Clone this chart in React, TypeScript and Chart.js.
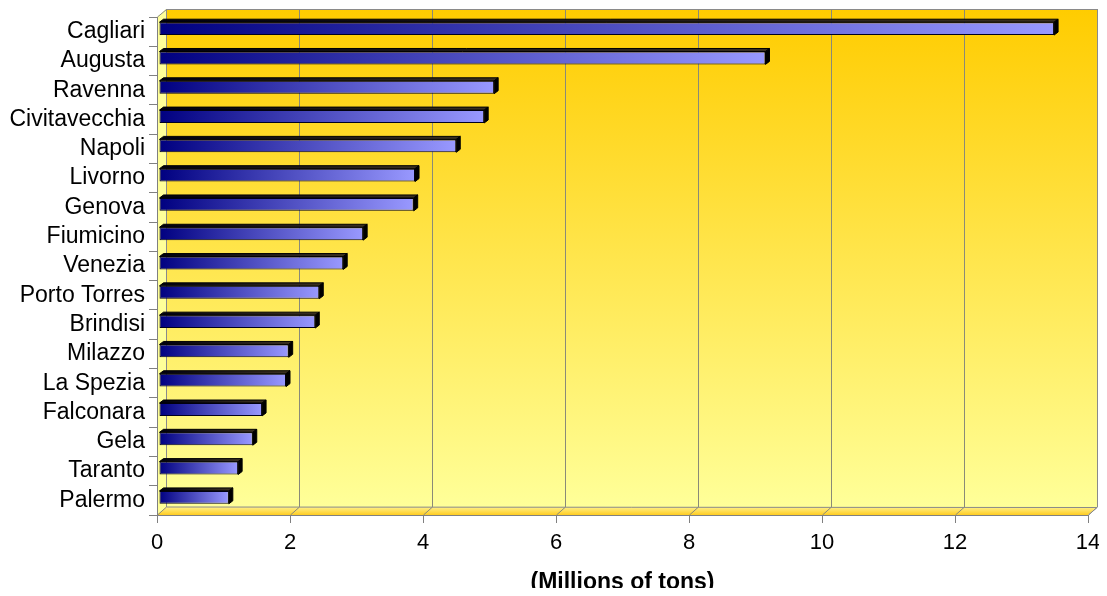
import React, { useEffect, useRef } from "react";
import { Chart, registerables } from "chart.js";

Chart.register(...registerables);

const ports = [
  "Cagliari", "Augusta", "Ravenna", "Civitavecchia", "Napoli", "Livorno", "Genova",
  "Fiumicino", "Venezia", "Porto Torres", "Brindisi", "Milazzo", "La Spezia",
  "Falconara", "Gela", "Taranto", "Palermo",
];
const tons = [
  13.46, 9.12, 5.04, 4.89, 4.47, 3.85, 3.83, 3.07, 2.77, 2.41, 2.35, 1.95, 1.91, 1.55, 1.41, 1.19, 1.05,
];
const xMin = 0;
const xMax = 14;
const xStep = 2;
const axisTitle = "(Millions of tons)";

const WALL_DX = 9;
const WALL_DY = -8;
const BAR_DX = 4;
const BAR_DY = -3;
const SHIFT_X = 2;
const SHIFT_Y = -3;
const FONT = "'Liberation Sans', Arial, sans-serif";

const threeD = {
  id: "threeD",
  beforeDraw(chart: any) {
    const { ctx, chartArea, scales } = chart;
    const { left, right, top, bottom } = chartArea;
    const x = scales.x;
    ctx.save();
    const g = ctx.createLinearGradient(0, top + WALL_DY, 0, bottom + WALL_DY);
    g.addColorStop(0, "#FFCC00");
    g.addColorStop(1, "#FFFF99");
    ctx.fillStyle = g;
    ctx.fillRect(left + WALL_DX, top + WALL_DY, right - left, bottom - top);
    ctx.fillStyle = "#FFFF99";
    ctx.beginPath();
    ctx.moveTo(left, top);
    ctx.lineTo(left + WALL_DX, top + WALL_DY);
    ctx.lineTo(left + WALL_DX, bottom + WALL_DY);
    ctx.lineTo(left, bottom);
    ctx.closePath();
    ctx.fill();
    const fg = ctx.createLinearGradient(0, bottom + WALL_DY, 0, bottom);
    fg.addColorStop(0, "#FFF08A");
    fg.addColorStop(1, "#FFCC22");
    ctx.fillStyle = fg;
    ctx.beginPath();
    ctx.moveTo(left, bottom);
    ctx.lineTo(left + WALL_DX, bottom + WALL_DY);
    ctx.lineTo(right + WALL_DX, bottom + WALL_DY);
    ctx.lineTo(right, bottom);
    ctx.closePath();
    ctx.fill();
    ctx.strokeStyle = "#8a8a78";
    ctx.lineWidth = 1;
    for (const t of x.ticks) {
      const px = Math.round(x.getPixelForValue(t.value)) + 0.5;
      ctx.beginPath();
      ctx.moveTo(px + WALL_DX, top + WALL_DY);
      ctx.lineTo(px + WALL_DX, bottom + WALL_DY);
      ctx.stroke();
      ctx.beginPath();
      ctx.moveTo(px, bottom);
      ctx.lineTo(px + WALL_DX, bottom + WALL_DY);
      ctx.stroke();
    }
    ctx.strokeStyle = "#8a8a8a";
    ctx.beginPath();
    ctx.moveTo(left + 0.5, top);
    ctx.lineTo(left + WALL_DX + 0.5, top + WALL_DY + 0.5);
    ctx.lineTo(right + WALL_DX + 0.5, top + WALL_DY + 0.5);
    ctx.lineTo(right + WALL_DX + 0.5, bottom + WALL_DY);
    ctx.lineTo(right + 0.5, bottom);
    ctx.stroke();
    ctx.beginPath();
    ctx.moveTo(left + WALL_DX + 0.5, top + WALL_DY);
    ctx.lineTo(left + WALL_DX + 0.5, bottom + WALL_DY);
    ctx.lineTo(right + WALL_DX, bottom + WALL_DY + 0.5);
    ctx.stroke();
    ctx.restore();
  },
  beforeDatasetsDraw(chart: any) {
    chart.ctx.save();
    chart.ctx.translate(SHIFT_X, SHIFT_Y);
  },
  afterDatasetsDraw(chart: any) {
    const { ctx } = chart;
    const meta = chart.getDatasetMeta(0);
    ctx.lineWidth = 1;
    for (const el of meta.data) {
      const { x, y, base, height } = el.getProps(["x", "y", "base", "height"], true);
      const t = y - height / 2;
      const b = y + height / 2;
      const tg = ctx.createLinearGradient(base, 0, x, 0);
      tg.addColorStop(0, "#000010");
      tg.addColorStop(1, "#3a3020");
      ctx.fillStyle = tg;
      ctx.strokeStyle = "#000";
      ctx.beginPath();
      ctx.moveTo(base, t);
      ctx.lineTo(base + BAR_DX, t + BAR_DY);
      ctx.lineTo(x + BAR_DX, t + BAR_DY);
      ctx.lineTo(x, t);
      ctx.closePath();
      ctx.fill();
      ctx.stroke();
      ctx.fillStyle = "#000";
      ctx.beginPath();
      ctx.moveTo(x, t);
      ctx.lineTo(x + BAR_DX, t + BAR_DY);
      ctx.lineTo(x + BAR_DX, b + BAR_DY);
      ctx.lineTo(x, b);
      ctx.closePath();
      ctx.fill();
      ctx.stroke();
    }
    ctx.restore();
  },
};

export default function App() {
  const ref = useRef<HTMLCanvasElement>(null);
  useEffect(() => {
    const chart = new Chart(ref.current!, {
      type: "bar",
      data: {
        labels: ports,
        datasets: [
          {
            data: tons,
            backgroundColor: (c: any) => {
              const ch = c.chart;
              if (!ch.chartArea || c.type !== "data") return "#4040c0";
              const x0 = ch.scales.x.getPixelForValue(0);
              const x1 = ch.scales.x.getPixelForValue(c.raw);
              const g = ch.ctx.createLinearGradient(x0, 0, x1, 0);
              g.addColorStop(0, "#000080");
              g.addColorStop(1, "#9999FF");
              return g;
            },
            borderColor: "#000020",
            borderWidth: 1,
            borderSkipped: false,
            barPercentage: 0.44,
            categoryPercentage: 1,
          },
        ],
      },
      options: {
        indexAxis: "y",
        responsive: false,
        devicePixelRatio: 1,
        animation: false,
        layout: { padding: { left: 0, top: 9, right: 19, bottom: 0 } },
        plugins: { legend: { display: false }, tooltip: { enabled: false } },
        scales: {
          x: {
            min: xMin,
            max: xMax,
            ticks: { stepSize: xStep, color: "#000", padding: 7, font: { family: FONT, size: 22 } },
            grid: { drawOnChartArea: false, drawTicks: true, tickLength: 8, color: "#808080" },
            border: { color: "#808080" },
            title: {
              display: true,
              text: axisTitle,
              color: "#000",
              font: { family: FONT, size: 23, weight: "bold", lineHeight: 1 },
              padding: { top: 0, bottom: 2 },
            },
            afterFit: (s: any) => {
              s.height = 81;
              s.paddingLeft = 0;
              s.paddingRight = 0;
            },
          },
          y: {
            ticks: { color: "#000", padding: 4, autoSkip: false, font: { family: FONT, size: 23 } },
            grid: { drawOnChartArea: false, drawTicks: true, tickLength: 8, color: "#808080" },
            border: { color: "#808080" },
            afterFit: (s: any) => {
              s.width = 149;
              s.paddingTop = 0;
              s.paddingBottom = 0;
            },
          },
        },
      },
      plugins: [threeD],
    } as any);
    return () => chart.destroy();
  }, []);
  return (
    <div style={{ width: 1099, height: 588, marginBottom: -8 }}>
      <canvas ref={ref} width={1099} height={588} />
    </div>
  );
}
